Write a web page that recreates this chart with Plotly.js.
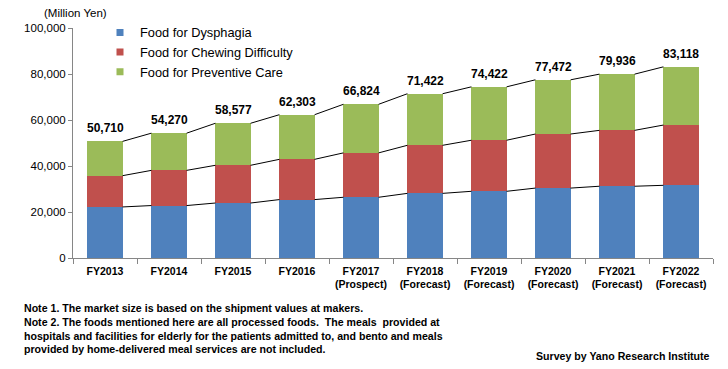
<!DOCTYPE html>
<html>
<head>
<meta charset="utf-8">
<script src="https://cdn.plot.ly/plotly-3.0.1.min.js"></script>
<style>html,body{margin:0;padding:0;background:#fff;}#chart{width:728px;height:369px;}</style>
</head>
<body>
<div id="chart"></div>
<script>
const categories = ["FY2013","FY2014","FY2015","FY2016","FY2017<br>(Prospect)","FY2018<br>(Forecast)","FY2019<br>(Forecast)","FY2020<br>(Forecast)","FY2021<br>(Forecast)","FY2022<br>(Forecast)"];
const dysphagia = [22200,22800,23900,25400,26400,28100,29000,30400,31200,31600];
const chewing = [13600,15300,16400,17500,19300,20900,22200,23500,24300,26200];
const preventive = [14910,16170,18277,19403,21124,22422,23222,23572,24436,25318];
const totals = [50710,54270,58577,62303,66824,71422,74422,77472,79936,83118];
const seriesNames = ["Food for Dysphagia","Food for Chewing Difficulty","Food for Preventive Care"];
const colors = ["#4F81BD","#C0504D","#9BBB59"];
const noteLines = [
  "Note 1. The market size is based on the shipment values at makers.",
  "Note 2. The foods mentioned here are all processed foods.  The meals  provided at",
  "hospitals and facilities for elderly for the patients admitted to, and bento and meals",
  "provided by home-delivered meal services are not included."
];
const sourceText = "Survey by Yano Research Institute";

const font = "Liberation Sans";
const series = [dysphagia, chewing, preventive];
const traces = series.map((vals, k) => ({
  type: "bar", x: categories, y: vals, name: seriesNames[k], showlegend: false,
  marker: {color: colors[k], line: {width: 0}}, hoverinfo: "skip"
}));
seriesNames.forEach((n, k) => traces.push({
  type: "scatter", mode: "markers", x: [null], y: [null], name: n, showlegend: true,
  marker: {symbol: "square", size: 7, color: colors[k]}
}));

const barWidth = 0.55;
const shapes = [];
const cum = [];
for (let k = 0; k < series.length; k++) {
  cum.push(series[k].map((v, i) => v + (k > 0 ? cum[k-1][i] : 0)));
}
cum.forEach((level, k) => {
  const ys = (k === series.length - 1) ? totals : level;
  for (let i = 0; i < categories.length - 1; i++) {
    shapes.push({type: "line", xref: "x", yref: "y",
      x0: i + barWidth/2, y0: ys[i], x1: i + 1 - barWidth/2, y1: ys[i+1],
      line: {color: "#000", width: 1}});
  }
});

const annotations = totals.map((t, i) => ({
  x: i, y: t, xref: "x", yref: "y", text: t.toLocaleString("en-US"),
  showarrow: false, yanchor: "bottom", yshift: 4,
  font: {family: font, size: 12, color: "#000", weight: "bold"}
}));
annotations.push({xref: "paper", yref: "paper", x: (42 - 73) / 640, y: (258 - 13) / 230, xanchor: "left", yanchor: "middle",
  text: "(Million Yen)", showarrow: false, font: {family: font, size: 11.5, color: "#000"}});
const notePy = [308, 322, 335.5, 349];
noteLines.forEach((t, j) => annotations.push({xref: "paper", yref: "paper",
  x: (22 - 73) / 640, y: (258 - notePy[j]) / 230, xanchor: "left", yanchor: "middle", align: "left",
  text: t, showarrow: false, font: {family: font, size: 10.6, color: "#000", weight: "bold"}}));
annotations.push({xref: "paper", yref: "paper", x: (712 - 73) / 640, y: (258 - 356) / 230, xanchor: "right", yanchor: "middle",
  text: sourceText, showarrow: false,
  font: {family: font, size: 10.6, color: "#000", weight: "bold"}});

const layout = {
  width: 728, height: 369,
  margin: {l: 73, r: 15, t: 28, b: 111},
  paper_bgcolor: "#fff", plot_bgcolor: "#fff",
  barmode: "stack", bargap: 1 - barWidth,
  showlegend: true,
  legend: {x: (100 - 73) / 640, y: 1.045, xanchor: "left", yanchor: "top", traceorder: "normal",
    font: {family: font, size: 12.8, color: "#000"}, bgcolor: "rgba(0,0,0,0)", itemwidth: 30, tracegroupgap: 0},
  xaxis: {type: "category", showline: true, linecolor: "#868686", linewidth: 1,
    ticks: "outside", tickson: "boundaries", ticklen: 5, tickcolor: "#868686", tickangle: 0,
    ticklabelstandoff: 3,
    showgrid: false, zeroline: false,
    tickfont: {family: font, size: 10.5, color: "#000", weight: "bold"}},
  yaxis: {range: [0, 100000], dtick: 20000, tickformat: ",", showline: true, linecolor: "#868686",
    ticks: "outside", ticklen: 4, tickcolor: "#868686", showgrid: false, zeroline: false,
    tickfont: {family: font, size: 11.5, color: "#000"}},
  shapes: shapes, annotations: annotations
};
Plotly.newPlot("chart", traces, layout, {displayModeBar: false, staticPlot: true});
</script>
</body>
</html>
